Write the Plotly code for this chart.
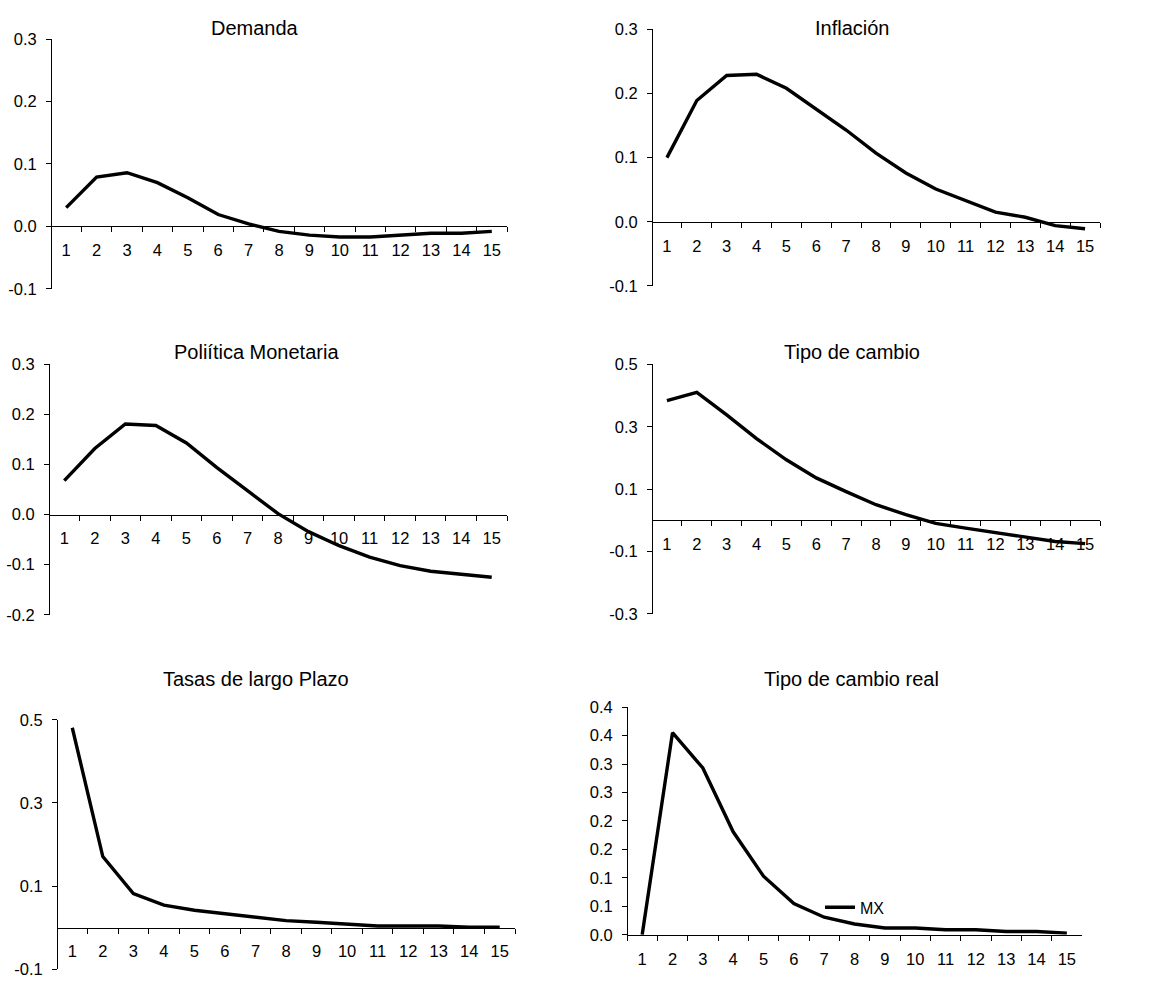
import plotly.graph_objects as go

W, H = 1172, 990

periods = [str(i) for i in range(1, 16)]

demanda = [0.030, 0.079, 0.086, 0.070, 0.046, 0.019, 0.004, -0.008, -0.014, -0.017,
           -0.017, -0.014, -0.011, -0.011, -0.008]
inflacion = [0.100, 0.189, 0.228, 0.230, 0.208, 0.176, 0.143, 0.107, 0.076, 0.051,
             0.033, 0.015, 0.007, -0.006, -0.011]
politica = [0.068, 0.132, 0.181, 0.178, 0.143, 0.094, 0.048, 0.002, -0.034, -0.062,
            -0.085, -0.102, -0.113, -0.119, -0.125]
tipo_cambio = [0.384, 0.410, 0.338, 0.262, 0.194, 0.136, 0.092, 0.050, 0.018, -0.010,
               -0.025, -0.040, -0.055, -0.068, -0.075]
tasas = [0.481, 0.171, 0.082, 0.054, 0.042, 0.034, 0.026, 0.017, 0.013, 0.009,
         0.004, 0.004, 0.004, 0.001, 0.001]
tc_real = [0.000, 0.355, 0.293, 0.181, 0.103, 0.055, 0.031, 0.019, 0.012, 0.012,
           0.009, 0.009, 0.006, 0.006, 0.003]

titles = ["Demanda", "Inflación", "Poliítica Monetaria", "Tipo de cambio",
          "Tasas de largo Plazo", "Tipo de cambio real"]
series = [demanda, inflacion, politica, tipo_cambio, tasas, tc_real]
series_name = "MX"

ytick_vals = [
    [-0.1, 0.0, 0.1, 0.2, 0.3],
    [-0.1, 0.0, 0.1, 0.2, 0.3],
    [-0.2, -0.1, 0.0, 0.1, 0.2, 0.3],
    [-0.3, -0.1, 0.1, 0.3, 0.5],
    [-0.1, 0.1, 0.3, 0.5],
    [0.0, 0.05, 0.1, 0.15, 0.2, 0.25, 0.3, 0.35, 0.4],
]
ytick_text = [
    ["-0.1", "0.0", "0.1", "0.2", "0.3"],
    ["-0.1", "0.0", "0.1", "0.2", "0.3"],
    ["-0.2", "-0.1", "0.0", "0.1", "0.2", "0.3"],
    ["-0.3", "-0.1", "0.1", "0.3", "0.5"],
    ["-0.1", "0.1", "0.3", "0.5"],
    ["0.0", "0.1", "0.1", "0.2", "0.2", "0.3", "0.3", "0.4", "0.4"],
]
y_ranges = [[-0.1, 0.3], [-0.1, 0.3], [-0.2, 0.3], [-0.3, 0.5], [-0.1, 0.5], [0.0, 0.4]]

# panel boxes in pixels: (x_left, x_right, y_top, y_bottom)
boxes = [
    (51, 507, 30.7, 285),
    (652, 1100, 20.7, 282),
    (49, 507, 362, 617),
    (652, 1100, 362, 616),
    (57, 515, 724, 978),
    (627, 1082, 711, 943),
]
title_pos = [(255, 19), (852, 19), (256, 349), (852, 349), (256, 682), (851, 682)]

FONT = "Liberation Sans, Arial, sans-serif"
fig = go.Figure()
layout = {}
annotations = []
for i in range(6):
    n = "" if i == 0 else str(i + 1)
    xl, xr, yt, yb = boxes[i]
    xd = [xl / W, xr / W]
    yd = [1 - yb / H, 1 - yt / H]
    ymin, ymax = y_ranges[i]
    zero_pos = yd[0] + (0 - ymin) / (ymax - ymin) * (yd[1] - yd[0])
    fig.add_trace(go.Scatter(
        x=periods, y=series[i], mode="lines", name=series_name,
        line=dict(color="black", width=3.4),
        showlegend=(i == 5),
        xaxis="x" + n, yaxis="y" + n,
    ))
    layout["xaxis" + n] = dict(
        type="category", domain=xd, anchor="free", position=zero_pos,
        range=[-0.5, len(periods) - 0.5],
        showline=True, linecolor="black", linewidth=1,
        ticks="outside", tickson="boundaries", ticklen=5, tickcolor="black",
        showgrid=False, zeroline=False, layer="below traces",
        tickfont=dict(family=FONT, size=16.5, color="black"),
        ticklabelstandoff=9, fixedrange=True,
    )
    layout["yaxis" + n] = dict(
        domain=yd, range=[ymin, ymax], anchor="free", position=xd[0],
        tickmode="array", tickvals=ytick_vals[i], ticktext=ytick_text[i],
        showline=True, linecolor="black", linewidth=1,
        ticks="outside", ticklen=5, tickcolor="black",
        showgrid=False, zeroline=False, layer="below traces",
        tickfont=dict(family=FONT, size=16.5, color="black"),
        ticklabelstandoff=6, fixedrange=True,
    )
    tx, ty = title_pos[i]
    annotations.append(dict(
        text=titles[i], x=tx / W, y=1 - ty / H, xref="paper", yref="paper",
        xanchor="center", yanchor="middle", showarrow=False,
        font=dict(family=FONT, size=20, color="black"),
    ))

fig.update_layout(
    width=W, height=H, margin=dict(l=0, r=0, t=0, b=0),
    paper_bgcolor="white", plot_bgcolor="rgba(0,0,0,0)",
    annotations=annotations,
    legend=dict(x=820 / W, y=1 - 915 / H, xanchor="left", yanchor="middle",
                bgcolor="rgba(0,0,0,0)", font=dict(family=FONT, size=16, color="black"),
                itemwidth=30, tracegroupgap=0),
    **layout,
)
fig.write_html("out.html")
